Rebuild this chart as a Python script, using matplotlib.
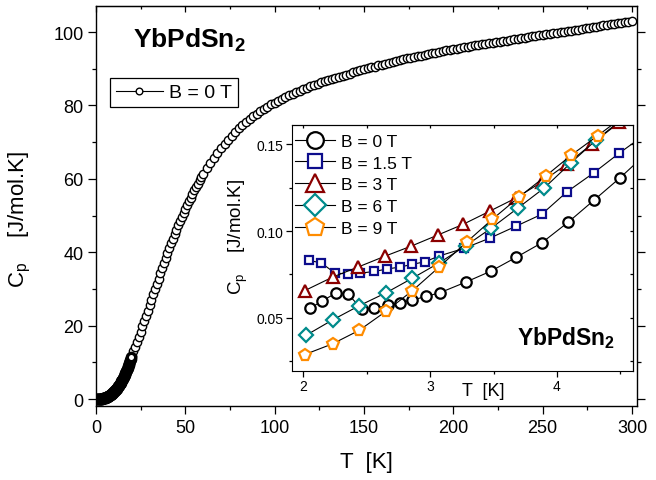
import numpy as np
import matplotlib
matplotlib.use('Agg')
import matplotlib.pyplot as plt
from matplotlib.ticker import MultipleLocator, FormatStrFormatter

plt.rcParams['font.family'] = ['Liberation Sans', 'DejaVu Sans']
plt.rcParams['mathtext.fontset'] = 'custom'
plt.rcParams['mathtext.rm'] = 'Liberation Sans'
plt.rcParams['mathtext.it'] = 'Liberation Sans:italic'
plt.rcParams['mathtext.bf'] = 'Liberation Sans:bold'

# ---- main panel: Cp(T), B = 0 T
T_low = [0.25, 0.5, 0.75, 1.0, 1.25, 1.5, 1.75, 2.0, 2.25, 2.5, 2.75, 3.0,
         3.25, 3.5, 3.75, 4.0, 4.25, 4.5, 4.75, 5.0, 5.25, 5.5, 5.75, 6.0,
         6.25, 6.5, 6.75, 7.0, 7.25, 7.5, 7.75, 8.0, 8.25, 8.5, 8.75, 9.0,
         9.25, 9.5, 9.75, 10.0, 10.25, 10.5, 10.75, 11.0, 11.25, 11.5, 11.75,
         12.0, 12.25, 12.5, 12.75, 13.0, 13.25, 13.5, 13.75, 14.0, 14.25,
         14.5, 14.75, 15.0, 15.25, 15.5, 15.75, 16.0, 16.25, 16.5, 16.75,
         17.0, 17.25, 17.5, 17.75, 18.0, 18.25, 18.5, 18.75, 19.0, 19.25,
         19.5, 19.75]
Cp_low = [0.02, 0.02, 0.02, 0.02, 0.02, 0.02, 0.02, 0.03, 0.04, 0.05, 0.07,
          0.08, 0.10, 0.13, 0.15, 0.18, 0.21, 0.24, 0.28, 0.32, 0.36, 0.41,
          0.46, 0.51, 0.57, 0.63, 0.70, 0.76, 0.84, 0.91, 1.00, 1.08, 1.17,
          1.27, 1.36, 1.47, 1.58, 1.69, 1.81, 1.93, 2.06, 2.19, 2.33, 2.47,
          2.62, 2.78, 2.94, 3.10, 3.27, 3.45, 3.63, 3.82, 4.01, 4.21, 4.42,
          4.63, 4.85, 5.07, 5.30, 5.54, 5.79, 6.03, 6.29, 6.55, 6.82, 7.10,
          7.38, 7.67, 7.97, 8.27, 8.59, 8.90, 9.23, 9.56, 9.90, 10.25, 10.60,
          10.96, 11.33]

T_high = [20, 21, 22, 23, 24, 25, 26, 27, 28, 29, 30, 31, 32, 33, 34, 35,
          36, 37, 38, 39, 40, 41, 42, 43, 44, 45, 46, 47, 48, 49, 50, 51, 52,
          53, 54, 55, 56, 57, 58, 59, 60, 62, 64, 66, 68, 70, 72, 74, 76, 78,
          80, 82, 84, 86, 88, 90, 92, 94, 96, 98, 100, 102, 104, 106, 108,
          110, 112, 114, 116, 118, 120, 122, 124, 126, 128, 130, 132, 134,
          136, 138, 140, 142, 144, 146, 148, 150, 152, 154, 156, 158, 160,
          162, 164, 166, 168, 170, 172, 174, 176, 178, 180, 182, 184, 186,
          188, 190, 192, 194, 196, 198, 200, 202, 204, 206, 208, 210, 212,
          214, 216, 218, 220, 222, 224, 226, 228, 230, 232, 234, 236, 238,
          240, 242, 244, 246, 248, 250, 252, 254, 256, 258, 260, 262, 264,
          266, 268, 270, 272, 274, 276, 278, 280, 282, 284, 286, 288, 290,
          292, 294, 296, 298, 300]
Cp_high = [11.7, 13.0, 14.3, 15.6, 17.0, 18.4, 19.8, 21.2, 22.7, 24.1, 25.6,
           27.0, 28.5, 29.9, 31.4, 32.8, 34.3, 35.7, 37.1, 38.5, 39.8, 41.1,
           42.4, 43.7, 44.9, 46.1, 47.3, 48.5, 49.6, 50.7, 51.8, 52.9, 53.9,
           54.9, 55.9, 56.9, 57.8, 58.7, 59.6, 60.5, 61.3, 62.9, 64.4, 65.8,
           67.1, 68.4, 69.6, 70.7, 71.8, 72.8, 73.8, 74.7, 75.5, 76.3, 77.1,
           77.8, 78.5, 79.1, 79.7, 80.3, 80.8, 81.3, 81.8, 82.3, 82.8, 83.2,
           83.6, 84.0, 84.4, 84.8, 85.2, 85.6, 85.9, 86.3, 86.6, 86.9, 87.2,
           87.5, 87.8, 88.1, 88.4, 88.7, 89.0, 89.3, 89.6, 89.9, 90.1, 90.4,
           90.6, 90.9, 91.1, 91.4, 91.6, 91.9, 92.1, 92.3, 92.6, 92.8, 93.0,
           93.2, 93.4, 93.6, 93.8, 94.0, 94.2, 94.4, 94.6, 94.8, 95.0, 95.2,
           95.4, 95.5, 95.7, 95.9, 96.0, 96.2, 96.4, 96.5, 96.7, 96.8, 97.0,
           97.1, 97.3, 97.4, 97.6, 97.7, 97.9, 98.0, 98.2, 98.3, 98.5, 98.6,
           98.8, 98.9, 99.1, 99.2, 99.4, 99.5, 99.7, 99.8, 100.0, 100.1,
           100.3, 100.4, 100.6, 100.7, 100.9, 101.0, 101.2, 101.3, 101.5,
           101.6, 101.8, 101.9, 102.1, 102.2, 102.4, 102.5, 102.7, 102.8,
           103.0]

# ---- inset: low-T Cp for several fields
T_0 = [2.05, 2.15, 2.26, 2.35, 2.46, 2.56, 2.67, 2.76, 2.86, 2.97, 3.08,
       3.28, 3.48, 3.68, 3.88, 4.09, 4.29, 4.50, 4.70]
Cp_0 = [0.0553, 0.0598, 0.0643, 0.0637, 0.0550, 0.0553, 0.0573, 0.0586,
        0.0602, 0.0623, 0.0645, 0.0705, 0.0769, 0.0849, 0.0932, 0.1052,
        0.1177, 0.1309, 0.1444]
T_15 = [2.04, 2.14, 2.25, 2.35, 2.45, 2.56, 2.66, 2.76, 2.86, 2.96, 3.07,
        3.27, 3.47, 3.68, 3.88, 4.08, 4.29, 4.49, 4.70]
Cp_15 = [0.0831, 0.0816, 0.0757, 0.0753, 0.0757, 0.0767, 0.0781, 0.0792,
         0.0808, 0.0823, 0.0856, 0.0901, 0.0959, 0.1029, 0.1097, 0.1227,
         0.1336, 0.1449, 0.1560]
T_3 = [2.01, 2.23, 2.43, 2.64, 2.85, 3.06, 3.26, 3.47, 3.68, 3.88, 4.08,
       4.28, 4.49]
Cp_3 = [0.0656, 0.0734, 0.0792, 0.0854, 0.0913, 0.0977, 0.1039, 0.1115,
        0.1192, 0.1283, 0.1388, 0.1505, 0.1627]
T_6 = [2.02, 2.23, 2.44, 2.65, 2.86, 3.07, 3.28, 3.48, 3.69, 3.90, 4.11,
       4.31, 4.52]
Cp_6 = [0.0398, 0.0487, 0.0569, 0.0643, 0.0728, 0.0816, 0.0915, 0.1016,
        0.1132, 0.1249, 0.1394, 0.1526, 0.1650]
T_9 = [2.01, 2.23, 2.44, 2.65, 2.86, 3.07, 3.29, 3.49, 3.70, 3.91, 4.11,
       4.32, 4.52]
Cp_9 = [0.0287, 0.0349, 0.0427, 0.0536, 0.0656, 0.0792, 0.0938, 0.1068,
        0.1196, 0.1317, 0.1437, 0.1550, 0.1660]

fig = plt.figure(figsize=(6.56, 4.81), dpi=100)
ax = fig.add_axes([0.1463, 0.1538, 0.8247, 0.8316])

T_all = T_low + T_high
Cp_all = Cp_low + Cp_high
ax.plot(T_all, Cp_all, '-o', color='k', lw=0.8, ms=6, mfc='white',
        mec='k', mew=1.0, label='B = 0 T')
# dense low-T run: overlapping circles merge into a solid band
ax.plot(T_low, Cp_low, 'o', ms=6, mfc='white', mec='k', mew=2.4)
ax.set_xlim(0, 302.8)
ax.set_ylim(-1.9, 107.1)
ax.xaxis.set_major_locator(MultipleLocator(50))
ax.xaxis.set_minor_locator(MultipleLocator(25))
ax.yaxis.set_major_locator(MultipleLocator(20))
ax.yaxis.set_minor_locator(MultipleLocator(10))
ax.tick_params(which='major', direction='out', length=5.5, width=0.9,
               labelsize=13, right=True)
ax.tick_params(which='minor', direction='out', length=3, width=0.9, right=True)
top = ax.secondary_xaxis('top')
top.xaxis.set_major_locator(MultipleLocator(50))
top.xaxis.set_minor_locator(MultipleLocator(25))
top.tick_params(which='major', direction='in', length=4, width=0.9, labeltop=False)
top.tick_params(which='minor', direction='in', length=2.5, width=0.9)
for s in ax.spines.values():
    s.set_linewidth(1.0)
ax.set_xlabel('T  [K]', fontsize=16, labelpad=11)
ax.set_ylabel('C$_\\mathrm{p}$    [J/mol.K]', fontsize=16)
ax.yaxis.set_label_coords(-0.116, 0.47)
ax.text(0.068, 0.95, 'YbPdSn$_\\mathbf{2}$', transform=ax.transAxes,
        fontsize=19, fontweight='bold', va='top', ha='left')
leg = ax.legend(loc='upper left', bbox_to_anchor=(0.026, 0.82),
                borderaxespad=0, fontsize=14, handlelength=2.4,
                handletextpad=0.35, borderpad=0.3, fancybox=False,
                framealpha=1, edgecolor='k', markerscale=0.8)
leg.get_frame().set_linewidth(0.9)

# ---- inset
ins = fig.add_axes([0.445, 0.2266, 0.520, 0.511])
ins.set_facecolor('white')
series = [(T_0, Cp_0, 'o', 'k', 'B = 0 T', 7.5),
          (T_15, Cp_15, 's', '#0d0d8c', 'B = 1.5 T', 6.3),
          (T_3, Cp_3, '^', '#8b0000', 'B = 3 T', 8),
          (T_6, Cp_6, 'D', '#008b8b', 'B = 6 T', 6.8),
          (T_9, Cp_9, 'p', '#ff8c00', 'B = 9 T', 8.5)]
for tt, cc, mk, col, lab, ms in series:
    ins.plot(tt, cc, '-', marker=mk, color='k', lw=0.8, ms=ms, mfc='white',
             mec=col, mew=1.6, label=lab)
ins.set_xlim(1.909, 4.600)
ins.set_ylim(0.0192, 0.1611)
ins.xaxis.set_major_locator(MultipleLocator(1))
ins.xaxis.set_minor_locator(MultipleLocator(0.5))
ins.yaxis.set_major_locator(MultipleLocator(0.05))
ins.yaxis.set_minor_locator(MultipleLocator(0.025))
ins.yaxis.set_major_formatter(FormatStrFormatter('%.2f'))
ins.tick_params(which='major', direction='out', length=4, width=0.9,
                labelsize=10, pad=2)
ins.tick_params(which='minor', direction='out', length=2.5, width=0.9)
itop = ins.secondary_xaxis('top')
itop.xaxis.set_major_locator(MultipleLocator(1))
itop.xaxis.set_minor_locator(MultipleLocator(0.5))
itop.tick_params(which='both', direction='in', length=2.5, width=0.9, labeltop=False)
iright = ins.secondary_yaxis('right')
iright.yaxis.set_major_locator(MultipleLocator(0.05))
iright.yaxis.set_minor_locator(MultipleLocator(0.025))
iright.tick_params(which='both', direction='in', length=2.5, width=0.9, labelright=False)
ins.set_xlabel('T  [K]', fontsize=13)
ins.xaxis.set_label_coords(0.56, -0.045)
ins.set_ylabel('C$_\\mathrm{p}$    [J/mol.K]', fontsize=13.5)
ins.yaxis.set_label_coords(-0.123, 0.55)
ins.text(0.66, 0.191, 'YbPdSn$_\\mathbf{2}$', transform=ins.transAxes,
         fontsize=16.5, fontweight='bold', va='top', ha='left')
ins.legend(loc='upper left', bbox_to_anchor=(0.0, 0.98), frameon=False,
           fontsize=12.5, handlelength=2.3, markerscale=1.6,
           labelspacing=0.38, borderaxespad=0.1, handletextpad=0.3,
           borderpad=0.1)

fig.savefig('out.png', dpi=100)
